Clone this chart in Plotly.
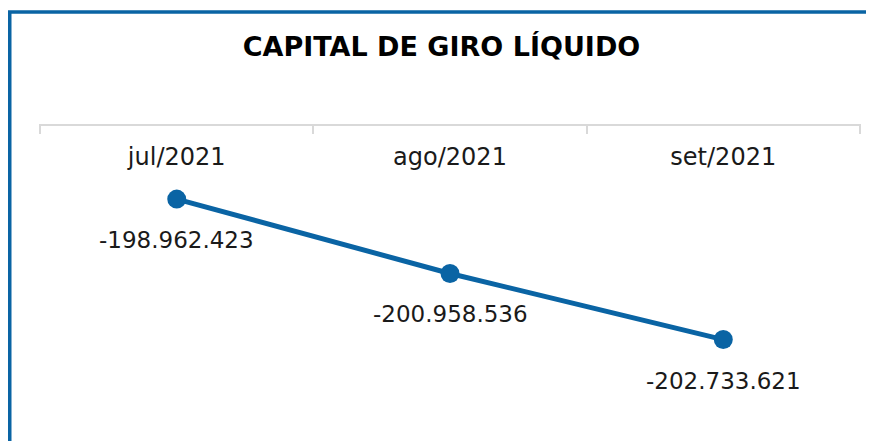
import plotly.graph_objects as go

categories = ["jul/2021", "ago/2021", "set/2021"]
values = [-198962423, -200958536, -202733621]
title_text = "CAPITAL DE GIRO LÍQUIDO"

BLUE = "#0A64A4"
W, H = 874, 441
OFF = 8  # page body offset
ML, MR, MT, MB = 39 - OFF, 13 + OFF, 126 - OFF, 17 + OFF
plot_w = W - ML - MR
plot_h = H - MT - MB


def px_to_paper_x(px):
    return (px - ML) / plot_w


def px_to_paper_y(py):
    return (H - MB - py) / plot_h


def fmt(v):
    return f"{v:,}".replace(",", ".")


fig = go.Figure()
fig.add_trace(go.Scatter(
    x=categories, y=values, mode="lines+markers",
    line=dict(color=BLUE, width=5),
    marker=dict(color=BLUE, size=19),
    hoverinfo="skip", showlegend=False,
))

for c, v in zip(categories, values):
    fig.add_annotation(x=c, y=v, text=fmt(v), showarrow=False, yshift=-41,
                       font=dict(family="DejaVu Sans", size=23, color="#1a1a1a"))

fig.add_shape(type="rect", xref="paper", yref="paper",
              x0=px_to_paper_x(1.75), x1=px_to_paper_x(W + 20),
              y0=px_to_paper_y(H + 20), y1=px_to_paper_y(4),
              line=dict(color=BLUE, width=3.5), fillcolor="rgba(0,0,0,0)")

fig.update_layout(
    width=W, height=H,
    margin=dict(l=ML, r=MR, t=MT, b=MB),
    paper_bgcolor="white", plot_bgcolor="white",
    title=dict(text=f"<b>{title_text}</b>", x=(441.5 - OFF) / W, xref="container", xanchor="center",
               y=1 - (47 - OFF) / H, yref="container", yanchor="middle",
               font=dict(family="DejaVu Sans", size=27, color="#000000")),
    xaxis=dict(side="top", type="category", range=[-0.504, 2.504],
               showline=True, linecolor="#d9d9d9", linewidth=2,
               ticks="inside", tickson="boundaries", ticklen=8, tickwidth=2, tickcolor="#d9d9d9",
               ticklabelposition="inside", ticklabelstandoff=16,
               showgrid=False, zeroline=False,
               tickfont=dict(family="DejaVu Sans", size=24, color="#1a1a1a")),
    yaxis=dict(range=[-205e6, -197e6], visible=False, showgrid=False, zeroline=False),
)

fig.write_html("out.html")
